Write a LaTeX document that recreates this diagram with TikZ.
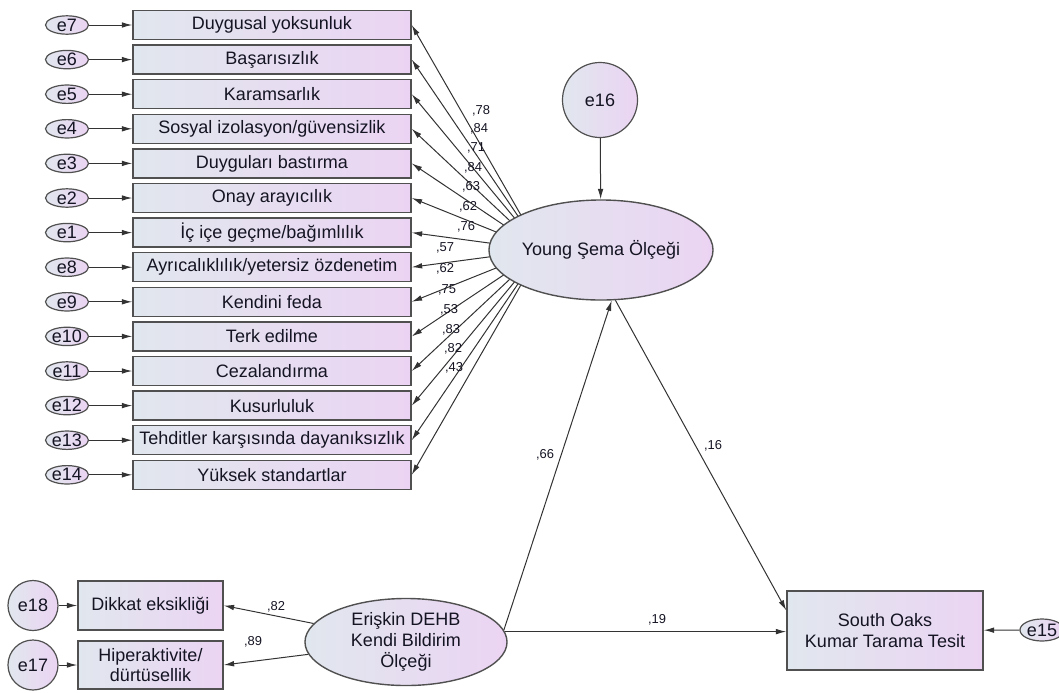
\documentclass[tikz,border=0pt]{standalone}
\usepackage{fontspec}
\setmainfont{Liberation Sans}
\usepackage{tikz}
\usetikzlibrary{positioning}
\usetikzlibrary{shapes.geometric}
\usetikzlibrary{arrows.meta}
\usetikzlibrary{backgrounds}
\usetikzlibrary{calc}
\definecolor{amosleft}{RGB}{225,231,238}
\definecolor{amosright}{RGB}{235,212,243}
\definecolor{amosline}{RGB}{80,80,80}
\definecolor{amostext}{RGB}{20,20,35}

\begin{document}
\begin{tikzpicture}[x=0.025cm, y=-0.025cm,
  every node/.style={font=\fontsize{12.8}{14.8}\selectfont, text=amostext},
  obsbox/.style={draw=amosline, line width=0.35mm, left color=amosleft, right color=amosright, minimum width=69.5mm, minimum height=7.25mm, inner sep=0},
  errell/.style={ellipse, draw=amosline, line width=0.3mm, left color=amosleft, right color=amosright, minimum width=10.75mm, minimum height=4.6mm, inner sep=0},
  errcirc/.style={circle, draw=amosline, line width=0.3mm, left color=amosleft, right color=amosright, inner sep=0},
  latent/.style={ellipse, draw=amosline, line width=0.35mm, left color=amosleft, right color=amosright, inner sep=0, align=center},
  arr/.style={-{Latex[length=2.6mm,width=1.4mm]}, line width=0.25mm, draw=black!80},
  coef/.style={font=\fontsize{9.2}{11}\selectfont, inner sep=0}
]
\useasboundingbox (0,0) rectangle (1059,692);

% Young Sema Olcegi
\node[latent, minimum width=50.5mm, minimum height=25mm] (young) at (601,250) {Young Şema Ölçeği};
\node[errcirc, minimum size=18.75mm] (e16) at (600,100) {e16};
\coordinate (yfoc) at (541,250);

% observed variables
\node[obsbox] (b7) at (272,25) {Duygusal yoksunluk};
\node[obsbox] (b6) at (272,59.6) {Başarısızlık};
\node[obsbox] (b5) at (272,94.2) {Karamsarlık};
\node[obsbox] (b4) at (272,128.8) {Sosyal izolasyon/güvensizlik};
\node[obsbox] (b3) at (272,163.4) {Duyguları bastırma};
\node[obsbox] (b2) at (272,198) {Onay arayıcılık};
\node[obsbox] (b1) at (272,232.6) {İç içe geçme/bağımlılık};
\node[obsbox] (b8) at (272,267.2) {Ayrıcalıklılık/yetersiz özdenetim};
\node[obsbox] (b9) at (272,301.8) {Kendini feda};
\node[obsbox] (b10) at (272,336.4) {Terk edilme};
\node[obsbox] (b11) at (272,371) {Cezalandırma};
\node[obsbox] (b12) at (272,405.6) {Kusurluluk};
\node[obsbox] (b13) at (272,440.2) {Tehditler karşısında dayanıksızlık};
\node[obsbox] (b14) at (272,474.8) {Yüksek standartlar};

% error terms
\node[errell] (e7) at (67,25) {e7};
\node[errell] (e6) at (67,59.6) {e6};
\node[errell] (e5) at (67,94.2) {e5};
\node[errell] (e4) at (67,128.8) {e4};
\node[errell] (e3) at (67,163.4) {e3};
\node[errell] (e2) at (67,198) {e2};
\node[errell] (e1) at (67,232.6) {e1};
\node[errell] (e8) at (67,267.2) {e8};
\node[errell] (e9) at (67,301.8) {e9};
\node[errell] (e10) at (67,336.4) {e10};
\node[errell] (e11) at (67,371) {e11};
\node[errell] (e12) at (67,405.6) {e12};
\node[errell] (e13) at (67,440.2) {e13};
\node[errell] (e14) at (67,474.8) {e14};

\draw[arr] (e7) -- (b7);
\draw[arr] (e6) -- (b6);
\draw[arr] (e5) -- (b5);
\draw[arr] (e4) -- (b4);
\draw[arr] (e3) -- (b3);
\draw[arr] (e2) -- (b2);
\draw[arr] (e1) -- (b1);
\draw[arr] (e8) -- (b8);
\draw[arr] (e9) -- (b9);
\draw[arr] (e10) -- (b10);
\draw[arr] (e11) -- (b11);
\draw[arr] (e12) -- (b12);
\draw[arr] (e13) -- (b13);
\draw[arr] (e14) -- (b14);

% loadings, behind the ellipse
\begin{pgfonlayer}{background}
\draw[arr] (yfoc) -- (b7.east);
\draw[arr] (yfoc) -- (b6.east);
\draw[arr] (yfoc) -- (b5.east);
\draw[arr] (yfoc) -- (b4.east);
\draw[arr] (yfoc) -- (b3.east);
\draw[arr] (yfoc) -- (b2.east);
\draw[arr] (yfoc) -- (b1.east);
\draw[arr] (yfoc) -- (b8.east);
\draw[arr] (yfoc) -- (b9.east);
\draw[arr] (yfoc) -- (b10.east);
\draw[arr] (yfoc) -- (b11.east);
\draw[arr] (yfoc) -- (b12.east);
\draw[arr] (yfoc) -- (b13.east);
\draw[arr] (yfoc) -- (b14.east);
\end{pgfonlayer}

\node[coef] (l7) at (481,111) {,78};
\node[coef] (l6) at (479,129) {,84};
\node[coef] (l5) at (476,148) {,71};
\node[coef] (l4) at (473,168) {,84};
\node[coef] (l3) at (471,187) {,63};
\node[coef] (l2) at (468,207) {,62};
\node[coef] (l1) at (466,227) {,76};
\node[coef] (l8) at (445,248) {,57};
\node[coef] (l9) at (445,269) {,62};
\node[coef] (l10) at (447,290) {,75};
\node[coef] (l11) at (449,310) {,53};
\node[coef] (l12) at (451,330) {,83};
\node[coef] (l13) at (453,349) {,82};
\node[coef] (l14) at (454,368) {,43};

\draw[arr] (e16) -- (young);

% Eriskin DEHB
\node[latent, minimum width=50.5mm, minimum height=21.75mm] (dehb) at (406,642) {Erişkin DEHB\\Kendi Bildirim\\Ölçeği};
\node[obsbox, minimum width=36.25mm, minimum height=12.25mm] (dikkat) at (150.5,605.5) {Dikkat eksikliği};
\node[obsbox, minimum width=36.25mm, minimum height=12mm, align=center] (hiper) at (150.5,665) {Hiperaktivite/\\dürtüsellik};
\node[errcirc, minimum size=12.5mm] (e18) at (33,605.5) {e18};
\node[errcirc, minimum size=12.5mm] (e17) at (33,665) {e17};

\draw[arr] (e18) -- (dikkat);
\draw[arr] (e17) -- (hiper);
\draw[arr] (dehb) -- (dikkat.east);
\draw[arr] (dehb) -- (hiper.east);
\node[coef] (l82) at (276,607) {,82};
\node[coef] (l89) at (253,642) {,89};

% South Oaks
\node[obsbox, minimum width=49mm, minimum height=19.75mm, align=center] (soks) at (885,630.5) {South Oaks\\Kumar Tarama Tesit};
\node[errell, minimum width=11mm, minimum height=5.5mm] (e15) at (1042,630) {e15};
\draw[arr] (e15) -- (soks);

\draw[arr] (dehb.7) -- (young.-78);
\draw[arr] (young.-74) -- ($(soks.north west)!0.25!(soks.south west)$);
\draw[arr] (dehb.6) -- (dehb.6 -| soks.west);

\node[coef] (l66) at (545,455) {,66};
\node[coef] (l16) at (713,446) {,16};
\node[coef] (l19) at (657,620) {,19};

\end{tikzpicture}
\end{document}
